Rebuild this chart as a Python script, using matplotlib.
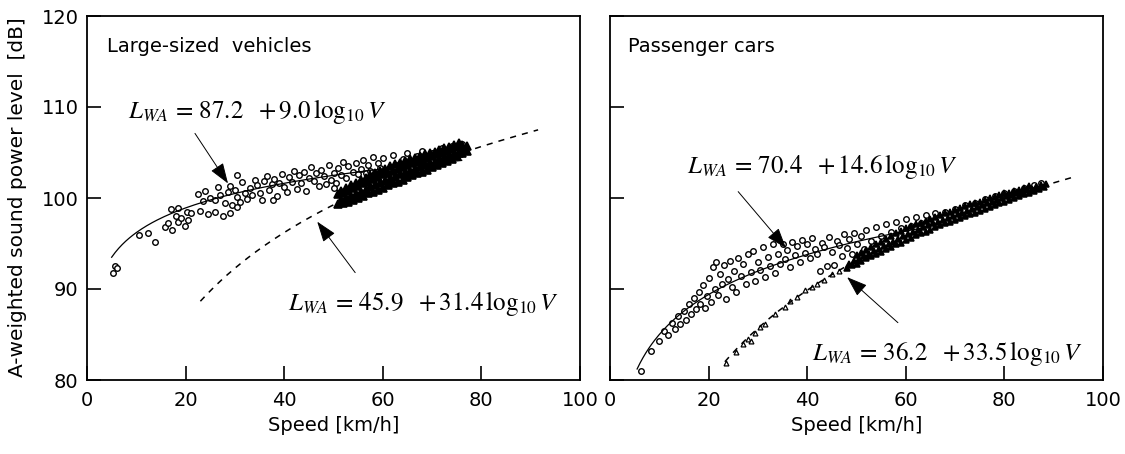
import numpy as np
import matplotlib
matplotlib.use("Agg")
import matplotlib.pyplot as plt

plt.rcParams['font.family'] = ['DejaVu Sans']
plt.rcParams['mathtext.fontset'] = 'stix'

# ---------------- data ----------------
x_ticks = [0, 20, 40, 60, 80, 100]
y_ticks = [80, 90, 100, 110, 120]

panel_titles = ["Large-sized  vehicles", "Passenger cars"]

# regression coefficients (a + b log10 V) and plotted speed range
lv_fit_idle = (87.2, 9.0, 5.0, 76.0)     # solid
lv_fit_cruise = (45.9, 31.4, 23.0, 91.5)  # dashed
pc_fit_idle = (70.4, 14.6, 5.5, 64.0)
pc_fit_cruise = (36.2, 33.5, 23.3, 93.7)

# large-sized vehicles, open markers (speed km/h, level dB)
lv_open = [
    (5.3, 91.8), (5.6, 92.5), (6.0, 92.3), (10.5, 95.9), (12.3, 96.2), (13.8, 95.2),
    (15.8, 96.8), (16.5, 97.3), (17.2, 96.5), (18.0, 98.0), (18.5, 97.4), (19.0, 97.8),
    (19.8, 96.9), (17.0, 98.8), (18.5, 98.9), (20.2, 98.5), (21.0, 98.3), (20.5, 97.6),
    (22.5, 100.4), (23.5, 99.7), (24.0, 100.8), (25.0, 100.0), (26.0, 99.8), (26.5, 101.2),
    (27.0, 100.3), (28.0, 99.4), (28.5, 100.7), (29.0, 101.3), (29.5, 99.2), (30.0, 100.9),
    (30.5, 100.1), (31.0, 99.6), (31.5, 101.8), (32.0, 100.5), (32.5, 99.9), (33.0, 101.1),
    (33.5, 100.3), (34.0, 102.0), (34.5, 101.4), (35.0, 100.6), (35.5, 99.8), (36.0, 101.9),
    (36.5, 102.4), (37.0, 100.9), (37.5, 101.5), (38.0, 102.1), (38.5, 100.2), (39.0, 101.7),
    (39.5, 102.6), (40.0, 101.2), (40.5, 100.7), (41.0, 102.3), (41.5, 101.8), (42.0, 103.0),
    (42.5, 101.0), (43.0, 102.5), (43.5, 101.6), (44.0, 102.9), (44.5, 100.8), (45.0, 102.2),
    (45.5, 103.4), (46.0, 101.9), (46.5, 102.7), (47.0, 101.3), (47.5, 103.1), (48.0, 102.4),
    (48.5, 101.5), (49.0, 103.6), (49.5, 102.0), (50.0, 102.8), (50.5, 101.7), (51.0, 103.3),
    (51.5, 102.5), (52.0, 104.0), (52.5, 102.2), (53.0, 103.5), (53.5, 101.2), (54.0, 102.9),
    (54.5, 103.8), (55.0, 102.6), (55.5, 103.2), (56.0, 104.2), (56.5, 102.8), (57.0, 103.6),
    (57.5, 103.0), (58.0, 104.5), (58.5, 102.7), (59.0, 103.9), (59.5, 103.3), (60.0, 104.4),
    (61.0, 103.1), (62.0, 104.7), (63.0, 103.6), (64.0, 104.3), (65.0, 104.9), (66.0, 103.8),
    (67.0, 104.6), (68.0, 105.2), (69.0, 104.2), (70.0, 105.0), (71.0, 104.6), (72.0, 105.5),
    (73.0, 104.9), (74.0, 105.7), (75.0, 105.2), (76.0, 105.9),
    (23.0, 98.6), (24.5, 98.2), (26.0, 98.5), (27.5, 98.0), (29.0, 98.4), (30.5, 99.0),
    (37.7, 99.8), (50.0, 101.1), (30.4, 102.5),
]

# large-sized vehicles, dense filled markers
lv_dense = [
    (51.0, 99.3), (51.5, 99.8), (51.0, 100.4), (51.5, 100.8),
    (52.0, 99.4), (52.5, 100.0), (52.0, 100.6), (52.5, 101.1),
    (53.0, 99.6), (53.5, 100.2), (53.0, 100.8), (53.5, 101.4),
    (54.0, 99.8), (54.5, 100.4), (54.0, 101.1), (54.5, 101.7),
    (55.0, 100.0), (55.5, 100.7), (55.0, 101.3), (55.5, 102.0),
    (56.0, 100.2), (56.5, 100.9), (56.0, 101.6), (56.5, 102.2),
    (57.0, 100.5), (57.5, 101.2), (57.0, 101.8), (57.5, 102.5),
    (58.0, 100.7), (58.5, 101.4), (58.0, 102.1), (58.5, 102.8),
    (59.0, 100.9), (59.5, 101.7), (59.0, 102.3), (59.5, 103.0),
    (60.0, 101.1), (60.5, 101.9), (60.0, 102.6), (60.5, 103.2),
    (61.0, 101.4), (61.5, 102.1), (61.0, 102.8), (61.5, 103.5),
    (62.0, 101.6), (62.5, 102.3), (62.0, 103.0), (62.5, 103.7),
    (63.0, 101.8), (63.5, 102.6), (63.0, 103.2), (63.5, 103.9),
    (64.0, 102.0), (64.5, 102.8), (64.0, 103.4), (64.5, 104.1),
    (65.0, 102.3), (65.5, 103.0), (65.0, 103.6), (65.5, 104.3),
    (66.0, 102.5), (66.5, 103.2), (66.0, 103.8), (66.5, 104.4),
    (67.0, 102.7), (67.5, 103.4), (67.0, 104.0), (67.5, 104.6),
    (68.0, 102.9), (68.5, 103.6), (68.0, 104.2), (68.5, 104.8),
    (69.0, 103.1), (69.5, 103.8), (69.0, 104.4), (69.5, 105.0),
    (70.0, 103.4), (70.5, 104.0), (70.0, 104.6), (70.5, 105.1),
    (71.0, 103.6), (71.5, 104.2), (71.0, 104.8), (71.5, 105.3),
    (72.0, 103.9), (72.5, 104.4), (72.0, 105.0), (72.5, 105.5),
    (73.0, 104.1), (73.5, 104.6), (73.0, 105.2), (73.5, 105.6),
    (74.0, 104.3), (74.5, 104.8), (74.0, 105.4), (74.5, 105.8),
    (75.0, 104.6), (75.5, 105.0), (75.0, 105.6), (75.5, 106.0),
    (76.0, 104.9), (76.5, 105.3), (76.0, 105.8),
    (77.0, 105.2), (77.0, 105.7),
]

# passenger cars, open markers
pc_open = [
    (6.3, 81.0), (8.3, 83.2), (10.0, 84.3), (11.0, 85.4), (11.8, 84.9), (12.5, 86.3),
    (13.2, 85.6), (13.8, 87.0), (14.3, 86.2), (15.0, 87.6), (15.5, 86.6), (16.0, 88.3),
    (16.5, 87.2), (17.0, 89.0), (17.5, 87.8), (18.0, 89.7), (18.3, 88.4), (18.8, 90.4),
    (19.2, 87.9), (19.6, 89.2), (20.0, 91.2), (20.4, 88.6), (20.8, 92.4), (21.2, 90.0),
    (21.6, 93.0), (22.0, 89.3), (22.4, 91.6), (22.8, 90.5), (23.2, 92.6), (23.6, 88.9),
    (24.0, 91.1), (24.4, 93.1), (24.8, 90.2), (25.2, 92.0), (25.6, 89.7), (26.0, 93.4),
    (26.5, 91.4), (27.0, 92.7), (27.5, 90.6), (28.0, 93.8), (28.5, 91.9), (29.0, 94.2),
    (29.5, 90.9), (30.0, 93.0), (30.5, 92.1), (31.0, 94.6), (31.5, 91.3), (32.0, 93.5),
    (32.5, 92.5), (33.0, 94.9), (33.5, 91.8), (34.0, 93.9), (34.5, 92.8), (35.0, 95.0),
    (35.5, 93.3), (36.0, 94.3), (36.5, 92.4), (37.0, 95.2), (37.5, 93.7), (38.0, 94.7),
    (38.5, 93.0), (39.0, 95.4), (39.5, 94.0), (40.0, 94.9), (40.5, 93.4), (41.0, 95.6),
    (41.5, 94.4), (42.0, 93.8), (42.5, 92.0), (43.0, 95.1), (43.5, 94.6), (44.0, 92.5),
    (44.5, 95.7), (45.0, 94.1), (45.5, 92.6), (46.0, 95.3), (46.5, 94.8), (47.0, 93.6),
    (47.5, 96.0), (48.0, 94.5), (48.5, 95.5), (49.0, 93.9), (49.5, 96.2), (50.0, 95.0),
    (51.0, 95.8), (51.5, 94.4), (52.0, 96.5), (53.0, 95.3), (54.0, 96.8), (55.0, 95.8),
    (56.0, 97.1), (57.0, 96.3), (58.0, 97.4), (59.0, 96.7), (60.0, 97.7), (61.0, 96.9),
    (62.0, 97.9), (63.0, 97.2), (64.0, 98.1), (65.0, 97.5), (66.0, 98.3), (68.0, 98.5),
    (70.0, 98.8), (72.0, 99.2), (74.0, 99.5), (76.0, 99.9), (78.0, 100.2), (80.0, 100.5),
    (82.0, 100.8), (84.0, 101.1), (86.0, 101.4), (87.5, 101.6),
]

# passenger cars, sparse open triangles at low cruising speed
pc_tri = [
    (23.5, 81.9), (25.5, 83.1), (27.0, 84.0), (28.0, 84.5), (28.5, 84.3), (29.5, 85.2),
    (30.5, 85.8), (31.5, 86.1), (33.5, 87.2), (35.5, 88.0), (36.5, 88.7), (38.0, 89.1),
    (39.5, 89.9), (41.0, 90.2), (42.0, 90.6), (43.5, 91.0), (45.0, 91.7), (46.5, 92.0),
]

# passenger cars, dense filled markers
pc_dense = [
    (48.0, 92.3), (48.5, 92.8), (49.0, 92.6), (49.5, 93.1),
    (50.0, 92.8), (50.5, 93.3), (50.0, 93.7), (51.0, 93.1), (51.5, 93.6), (51.0, 94.0),
    (52.0, 93.4), (52.5, 93.9), (52.0, 94.3), (53.0, 93.6), (53.5, 94.2), (53.0, 94.6),
    (54.0, 93.9), (54.5, 94.4), (54.0, 94.9), (55.0, 94.1), (55.5, 94.7), (55.0, 95.2),
    (56.0, 94.4), (56.5, 95.0), (56.0, 95.5), (57.0, 94.6), (57.5, 95.2), (57.0, 95.8),
    (58.0, 94.9), (58.5, 95.5), (58.0, 96.1), (59.0, 95.1), (59.5, 95.8), (59.0, 96.4),
    (60.0, 95.4), (60.5, 96.0), (60.0, 96.7), (61.0, 95.6), (61.5, 96.3), (61.0, 96.9),
    (62.0, 95.9), (62.5, 96.5), (62.0, 97.1), (63.0, 96.1), (63.5, 96.8), (63.0, 97.3),
    (64.0, 96.3), (64.5, 97.0), (64.0, 97.5), (65.0, 96.5), (65.5, 97.2), (65.0, 97.7),
    (66.0, 96.8), (66.5, 97.4), (66.0, 97.9), (67.0, 97.0), (67.5, 97.6), (67.0, 98.1),
    (68.0, 97.2), (68.5, 97.8), (68.0, 98.3), (69.0, 97.4), (69.5, 98.0), (69.0, 98.5),
    (70.0, 97.6), (70.5, 98.2), (70.0, 98.7), (71.0, 97.8), (71.5, 98.4), (71.0, 98.9),
    (72.0, 98.0), (72.5, 98.6), (72.0, 99.1), (73.0, 98.2), (73.5, 98.8), (73.0, 99.3),
    (74.0, 98.4), (74.5, 99.0), (74.0, 99.4), (75.0, 98.6), (75.5, 99.2), (75.0, 99.6),
    (76.0, 98.8), (76.5, 99.4), (76.0, 99.8), (77.0, 99.0), (77.5, 99.6), (77.0, 100.0),
    (78.0, 99.2), (78.5, 99.8), (78.0, 100.1), (79.0, 99.4), (79.5, 100.0), (79.0, 100.3),
    (80.0, 99.6), (80.5, 100.2), (80.0, 100.5), (81.0, 99.8), (81.5, 100.3), (81.0, 100.6),
    (82.0, 100.0), (82.5, 100.5), (82.0, 100.8), (83.0, 100.2), (83.5, 100.7), (83.0, 100.9),
    (84.0, 100.4), (84.5, 100.9), (84.0, 101.1), (85.0, 100.6), (85.5, 101.0), (85.0, 101.3),
    (86.0, 100.8), (86.5, 101.2), (87.0, 101.0), (87.5, 101.4), (88.0, 101.2), (88.5, 101.5),
]

# equation labels: (text, x, y baseline) and arrows (tip, tail)
lv_eqs = [(r'$L_{WA}\,=\,87.2\ \ +9.0\,\log_{10}V$', 8.3, 108.8),
          (r'$L_{WA}\,=\,45.9\ \ +31.4\,\log_{10}V$', 40.8, 87.7)]
lv_arrows = [((28.6, 101.6), (21.9, 107.1)), ((46.7, 97.4), (54.4, 91.8))]
pc_eqs = [(r'$L_{WA}\,=\,70.4\ \ +14.6\,\log_{10}V$', 15.6, 102.7),
          (r'$L_{WA}\,=\,36.2\ \ +33.5\,\log_{10}V$', 41.0, 82.2)]
pc_arrows = [((35.7, 94.5), (26.0, 100.7)), ((48.1, 91.3), (58.4, 86.3))]

ylabel = "A-weighted sound power level  [dB]"
xlabel = "Speed [km/h]"

# ---------------- drawing ----------------
W, H = 1125, 454
fig = plt.figure(figsize=(W / 100, H / 100), dpi=100)
ax1 = fig.add_axes([87 / W, (H - 380) / H, 493 / W, 364 / H])
ax2 = fig.add_axes([610 / W, (H - 380) / H, 493 / W, 364 / H])

FS = 14


def fit_line(ax, fit, ls):
    a, b, v0, v1 = fit
    v = np.linspace(v0, v1, 200)
    if ls == 'solid':
        ax.plot(v, a + b * np.log10(v), color='k', lw=0.9, zorder=4)
    else:
        ax.plot(v, a + b * np.log10(v), color='k', lw=1.1, dashes=(4, 4), zorder=4)


def scatter(ax, pts, marker, filled, ms, mew=1.0):
    xs = [p[0] for p in pts]
    ys = [p[1] for p in pts]
    ax.plot(xs, ys, ls='none', marker=marker, ms=ms,
            mfc='k' if filled else 'white', mec='k', mew=mew, zorder=3)


def style(ax, show_ylabels):
    ax.set_xlim(0, 100)
    ax.set_ylim(80, 120)
    ax.set_xticks(x_ticks)
    ax.set_yticks(y_ticks)
    for s in ax.spines.values():
        s.set_linewidth(1.3)
    ax.tick_params(direction='in', length=10, width=1.2, top=False, right=False,
                   labelsize=FS)
    ax.tick_params(axis='x', pad=8)
    ax.tick_params(axis='y', pad=6, labelleft=show_ylabels)
    ax.set_xlabel(xlabel, fontsize=FS, labelpad=4)


def annotate(ax, eqs, arrows):
    for txt, x, y in eqs:
        ax.text(x, y, txt, fontsize=18, ha='left', va='baseline', zorder=6)
    for tip, tail in arrows:
        ax.annotate('', xy=tip, xytext=tail,
                    arrowprops=dict(arrowstyle='-|>,head_length=0.85,head_width=0.3',
                                    color='k', lw=0.7, shrinkA=0, shrinkB=0,
                                    mutation_scale=15), zorder=6)


# left panel
scatter(ax1, lv_open, 'o', False, 4.0, 1.0)
scatter(ax1, lv_dense, '^', True, 6.0, 1.2)
fit_line(ax1, lv_fit_idle, 'solid')
fit_line(ax1, lv_fit_cruise, 'dashed')
annotate(ax1, lv_eqs, lv_arrows)
style(ax1, True)
ax1.text(4.1, 116.6, panel_titles[0], fontsize=FS, ha='left', va='center')

# right panel
scatter(ax2, pc_open, 'o', False, 4.0, 1.0)
scatter(ax2, pc_tri, '^', False, 3.5, 0.9)
scatter(ax2, pc_dense, '^', True, 5.0, 1.1)
fit_line(ax2, pc_fit_idle, 'solid')
fit_line(ax2, pc_fit_cruise, 'dashed')
annotate(ax2, pc_eqs, pc_arrows)
style(ax2, False)
ax2.text(3.7, 116.6, panel_titles[1], fontsize=FS, ha='left', va='center')

fig.text(18 / W, (H - 197) / H, ylabel, rotation=90, fontsize=14.5,
         ha='center', va='center')

fig.savefig('out.png', dpi=100)
